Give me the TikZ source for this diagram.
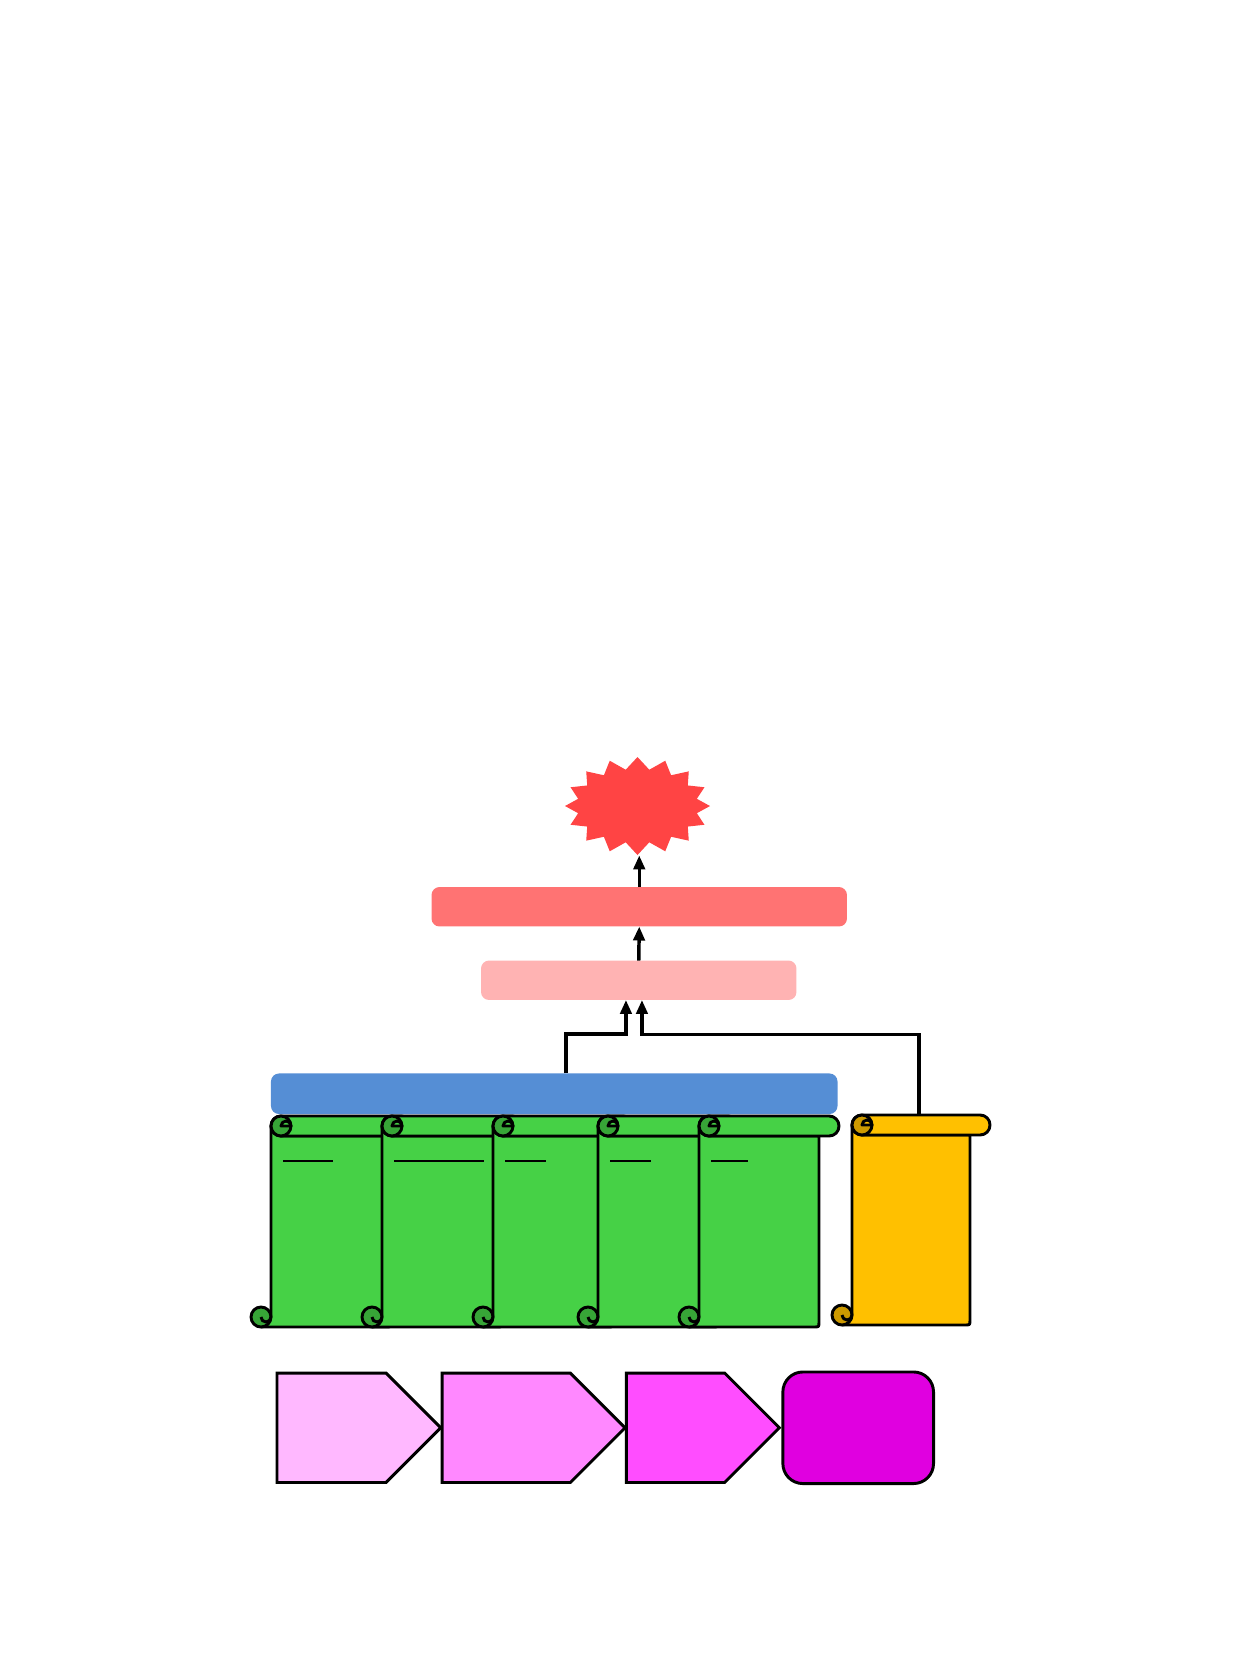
\documentclass[tikz,border=0pt]{standalone}
\usepackage{tikz}
\usetikzlibrary{arrows.meta,positioning,calc,shapes.symbols}
\definecolor{burstred}{HTML}{FF4444}
\definecolor{topfill}{HTML}{FF7373}
\definecolor{midfill}{HTML}{FFB3B3}
\definecolor{basefill}{HTML}{558ED5}
\definecolor{leafgreen}{HTML}{46D146}
\definecolor{leafdark}{HTML}{37A537}
\definecolor{scrollgold}{HTML}{FFC000}
\definecolor{golddark}{HTML}{CC9900}
\definecolor{chevA}{HTML}{FFB8FF}
\definecolor{chevB}{HTML}{FF88FF}
\definecolor{chevC}{HTML}{FF4DFF}
\definecolor{chevD}{HTML}{E000E0}
\tikzset{scrollline/.style={draw=black, line width=2.2pt, line join=round}}

% scroll drawn over an empty node: #1 node, #2 paper, #3 curl
\newcommand{\drawscroll}[3]{%
  \filldraw[scrollline, fill=#2]
    ([xshift=15pt,yshift=-7.5pt]#1.north west) -- ([xshift=15pt,yshift=7.5pt]#1.south west)
    -- ([xshift=7.5pt,yshift=7.5pt]#1.south west) -- ([xshift=7.5pt]#1.south west)
    -- ([xshift=-19pt]#1.south east) .. controls ([xshift=-15pt]#1.south east) .. ([xshift=-15pt,yshift=4pt]#1.south east)
    -- ([xshift=-15pt,yshift=-15pt]#1.north east) -- ([xshift=22.5pt,yshift=-15pt]#1.north west) -- cycle;
  \filldraw[scrollline, fill=#2, rounded corners=7.4pt]
    ([xshift=15pt]#1.north west) rectangle ([yshift=-15pt]#1.north east);
  \filldraw[scrollline, fill=#3] ([xshift=22.5pt,yshift=-7.5pt]#1.north west) circle[radius=7.5pt];
  \filldraw[scrollline, fill=#2] ([xshift=30pt,yshift=-7.5pt]#1.north west) arc[start angle=0, end angle=180, radius=3.75pt] -- cycle;
  \filldraw[scrollline, fill=#3] ([xshift=7.5pt,yshift=7.5pt]#1.south west) circle[radius=7.5pt];
  \draw[scrollline] ([xshift=15pt,yshift=7.5pt]#1.south west) arc[start angle=0, end angle=-180, radius=3.75pt];
}

\begin{document}
\begin{tikzpicture}[x=0.75pt, y=-0.75pt,
  bar/.style={rounded corners=6pt, inner sep=0pt, outer sep=0pt},
  scrollbox/.style={minimum width=120pt, minimum height=158.25pt, inner sep=0pt, outer sep=0pt},
  chev/.style={signal, draw, line width=2.2pt, inner sep=0pt, outer sep=0pt, minimum height=82.1pt},
  conn/.style={-{Triangle[length=10.5pt,width=8.5pt]}, line width=2.6pt}
]
  \useasboundingbox (0,0) rectangle (1240,1654);

  \node[starburst, starburst points=16, random starburst=0, starburst point height=9pt, fill=burstred, minimum width=108.75pt, minimum height=73.5pt, inner sep=0pt] (burst) at (637.5,806) {};
  \node[bar, fill=topfill, minimum width=311.6pt, minimum height=29.6pt] (topbar) at (639.25,906.75) {};
  \node[bar, fill=midfill, minimum width=236.6pt, minimum height=29.6pt] (midbar) at (638.75,980.25) {};
  \node[bar, fill=basefill, minimum width=424.9pt, minimum height=30.4pt] (basebar) at (554.25,1093.75) {};

  % scrolls
  \node[scrollbox] (scrollA) at (331,1221.5) {};
  \node[scrollbox] (scrollB) at (442,1221.5) {};
  \node[scrollbox] (scrollC) at (553,1221.5) {};
  \node[scrollbox] (scrollD) at (658,1221.5) {};
  \node[scrollbox] (scrollE) at (759,1221.5) {};
  \node[scrollbox, minimum width=118.5pt, minimum height=157.5pt] (scrollY) at (911,1220) {};

  \foreach \s/\len in {scrollA/37.5pt, scrollB/67.5pt, scrollC/30.75pt, scrollD/30.75pt, scrollE/27.75pt} {
    \drawscroll{\s}{leafgreen}{leafdark}
    \draw[line width=0.8pt] ([xshift=24pt,yshift=-33.75pt]\s.north west) -- ++(\len,0pt);
  }
  \drawscroll{scrollY}{scrollgold}{golddark}

  % steps
  \node[chev, fill=chevA, minimum width=122.8pt, anchor=west] (stepA) at (277,1427.75) {};
  \node[chev, fill=chevB, minimum width=137.25pt, right=1pt of stepA] (stepB) {};
  \node[chev, fill=chevC, minimum width=114.75pt, right=1pt of stepB] (stepC) {};
  \node[draw, line width=2.2pt, rounded corners=15pt, fill=chevD, minimum width=113pt, minimum height=83.7pt, inner sep=0pt, right=1.5pt of stepC] (stepD) {};

  \draw[conn] (midbar.north) -- (topbar.south);
  \draw[conn] (topbar.north) -- (topbar.north |- burst.south);
  \draw[conn] ([xshift=8.8pt]basebar.north) -- ++(0,-39.5) -| ([xshift=-9.6pt]midbar.south);
  \draw[conn] ([xshift=6pt]scrollY.north) -- ++(0,-80.5) -| ([xshift=2.4pt]midbar.south);
\end{tikzpicture}
\end{document}
